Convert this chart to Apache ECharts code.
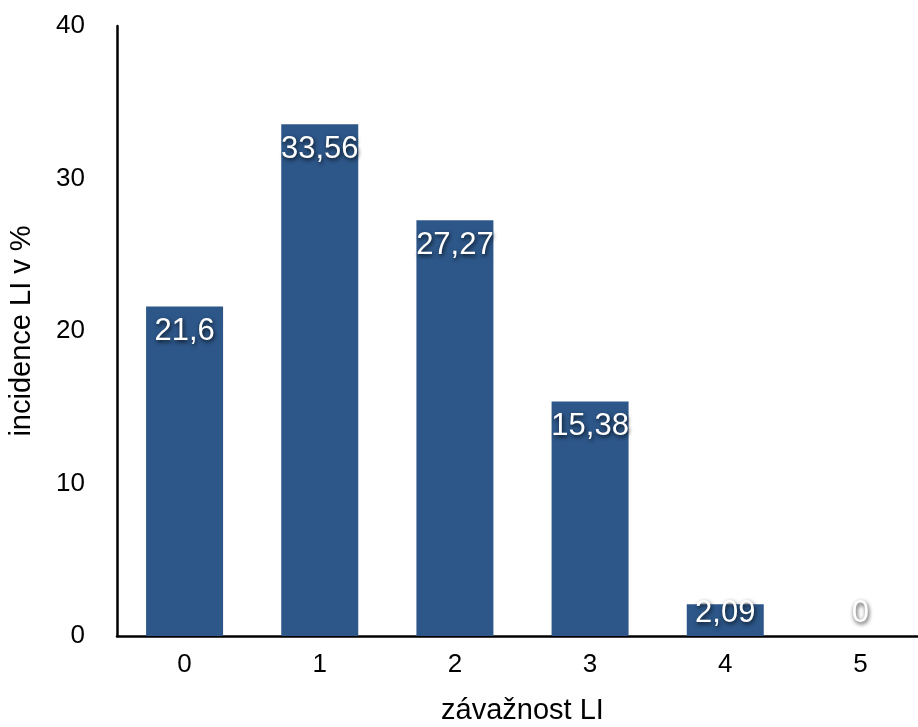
<!DOCTYPE html>
<html>
<head>
<meta charset="utf-8">
<script src="https://cdn.jsdelivr.net/npm/echarts@6/dist/echarts.min.js"></script>
<style>
  html, body { margin: 0; padding: 0; background: #ffffff; }
  #chart { width: 918px; height: 727px; }
</style>
</head>
<body>
<div id="chart"></div>
<script>
// Severity grades (x axis) and incidence in percent (y axis)
var categories = ['0', '1', '2', '3', '4', '5'];
var incidence = [21.6, 33.56, 27.27, 15.38, 2.09, 0];
var yTicks = { min: 0, max: 40, interval: 10 };

var fontFamily = '"Liberation Sans", Arial, Helvetica, sans-serif';
var chart = echarts.init(document.getElementById('chart'), null, { renderer: 'canvas' });

chart.setOption({
  animation: false,
  backgroundColor: '#ffffff',
  grid: {
    left: 117, right: -10, top: 26, bottom: 91,
    containLabel: false,
    outerBoundsMode: 'none'
  },
  xAxis: {
    type: 'category',
    data: categories,
    name: 'závažnost LI',
    nameLocation: 'middle',
    nameGap: 60,
    nameMoveOverlap: false,
    nameTextStyle: { color: '#000', fontSize: 29, fontFamily: fontFamily },
    axisLine: { lineStyle: { color: '#000', width: 2.5 } },
    axisTick: { show: false },
    axisLabel: { color: '#000', fontSize: 26, fontFamily: fontFamily, margin: 16 },
    splitLine: { show: false }
  },
  yAxis: {
    type: 'value',
    min: yTicks.min,
    max: yTicks.max,
    interval: yTicks.interval,
    name: 'incidence LI v %',
    nameLocation: 'middle',
    nameGap: 81,
    nameRotate: 90,
    nameMoveOverlap: false,
    nameTextStyle: { color: '#000', fontSize: 29, fontFamily: fontFamily },
    axisLine: { show: true, lineStyle: { color: '#000', width: 2.5 } },
    axisTick: { show: false },
    axisLabel: { color: '#000', fontSize: 26, fontFamily: fontFamily, margin: 32 },
    splitLine: { show: false }
  },
  series: [{
    type: 'bar',
    data: incidence,
    barWidth: 77,
    itemStyle: { color: '#2d5789' },
    label: {
      show: true,
      position: 'insideTop',
      color: '#ffffff',
      fontSize: 31,
      fontFamily: fontFamily,
      formatter: function (p) { return String(p.value).replace('.', ','); },
      textShadowColor: 'rgba(0,0,0,0.8)',
      textShadowBlur: 4,
      textShadowOffsetX: 1,
      textShadowOffsetY: 2
    },
    // keep value labels just under the bar top, but never below the baseline
    labelLayout: function (p) {
      var base = p.rect.y + p.rect.height;
      return {
        x: p.rect.x + p.rect.width / 2,
        y: Math.min(p.rect.y + 25, base - 23),
        align: 'center',
        verticalAlign: 'middle'
      };
    }
  }]
});
</script>
</body>
</html>
